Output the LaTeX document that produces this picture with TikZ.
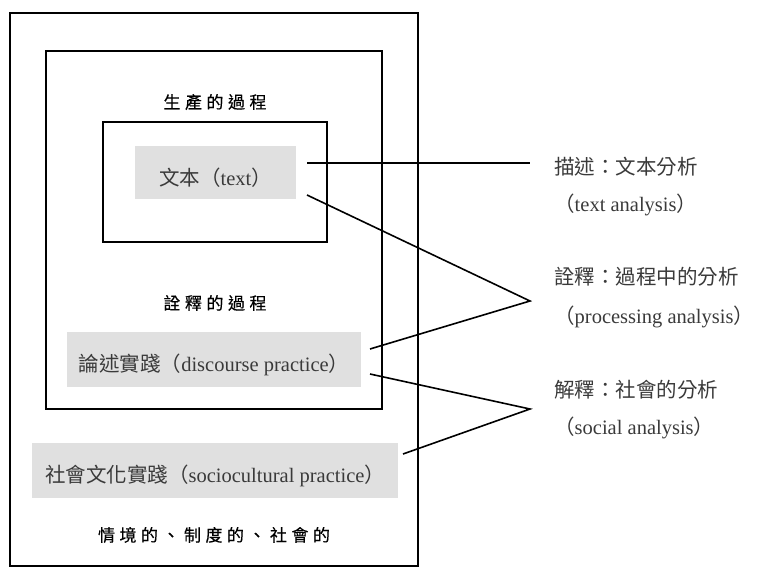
\documentclass[tikz,border=0pt]{standalone}
\usepackage{fontspec}
\setmainfont{Liberation Serif}
\newfontfamily\cjk{Noto Sans CJK TC}
\newfontfamily\cjkh[FakeBold=0.3]{Noto Sans CJK TC}
\newcommand{\lowr}[1]{\raisebox{-5pt}[\height][\depth]{#1}}
\newcommand{\hsp}{\hspace{4.5pt}}
\definecolor{boxgray}{HTML}{E0E0E0}
\definecolor{txtgray}{HTML}{3A3A3A}
\tikzset{
  frame/.style={draw=black, line width=1.8pt},
  graybox/.style={fill=boxgray, draw=none, inner sep=0pt, font=\fontsize{20.5}{24}\selectfont, text=txtgray},
  head/.style={inner sep=0pt, font=\cjkh\fontsize{17}{20}\selectfont, text=black},
  rlabel/.style={anchor=west, inner sep=0pt, font=\fontsize{20.5}{24}\selectfont, text=txtgray},
  conn/.style={draw=black, line width=1.6pt}
}
\begin{document}
\begin{tikzpicture}[x=1pt,y=-1pt]
\useasboundingbox (0,0) rectangle (757,568);
% frames
\draw[frame] (10,13) rectangle (418,566);
\draw[frame] (46,51) rectangle (382,409);
\draw[frame] (103,122) rectangle (327,242);
% gray boxes
\node[graybox, minimum width=161pt, minimum height=53pt] (txt) at (215.5,172.5)
  {\lowr{{\cjk 文本（}text{\cjk ）}}};
\node[graybox, minimum width=294pt, minimum height=55pt] (disc) at (214,359.5)
  {\lowr{{\cjk 論述實踐（}discourse practice{\cjk ）}}};
\node[graybox, minimum width=366pt, minimum height=55pt] (soc) at (215,470.5)
  {\lowr{{\cjk 社會文化實踐（}sociocultural practice{\cjk ）}}};
% headings
\node[head] (h1) at (215,102) {生\hsp 產\hsp 的\hsp 過\hsp 程};
\node[head] (h2) at (215,303) {詮\hsp 釋\hsp 的\hsp 過\hsp 程};
\node[head] (h3) at (214,535) {情\hsp 境\hsp 的\hsp 、\hsp 制\hsp 度\hsp 的\hsp 、\hsp 社\hsp 會\hsp 的};
% right labels
\node[rlabel] (r1) at (554,167) {{\cjk 描述：文本分析}};
\node[rlabel] (r1b) at (554,205) {{\cjk （}text analysis{\cjk ）}};
\node[rlabel] (r2) at (554,277) {{\cjk 詮釋：過程中的分析}};
\node[rlabel] (r2b) at (554,317) {{\cjk （}processing analysis{\cjk ）}};
\node[rlabel] (r3) at (554,390) {{\cjk 解釋：社會的分析}};
\node[rlabel] (r3b) at (554,428) {{\cjk （}social analysis{\cjk ）}};
% connector points
\coordinate (s1) at (307,163);
\coordinate (e1) at (530,163);
\coordinate (s2) at (307,195);
\coordinate (p2) at (530,301);
\coordinate (s3) at (370,349);
\coordinate (s4) at (370,374);
\coordinate (p3) at (530,409);
\coordinate (s5) at (403,454);
\draw[conn] (s1) -- (e1);
\draw[conn] (s2) -- (p2) -- (s3);
\draw[conn] (s4) -- (p3) -- (s5);
\end{tikzpicture}
\end{document}
